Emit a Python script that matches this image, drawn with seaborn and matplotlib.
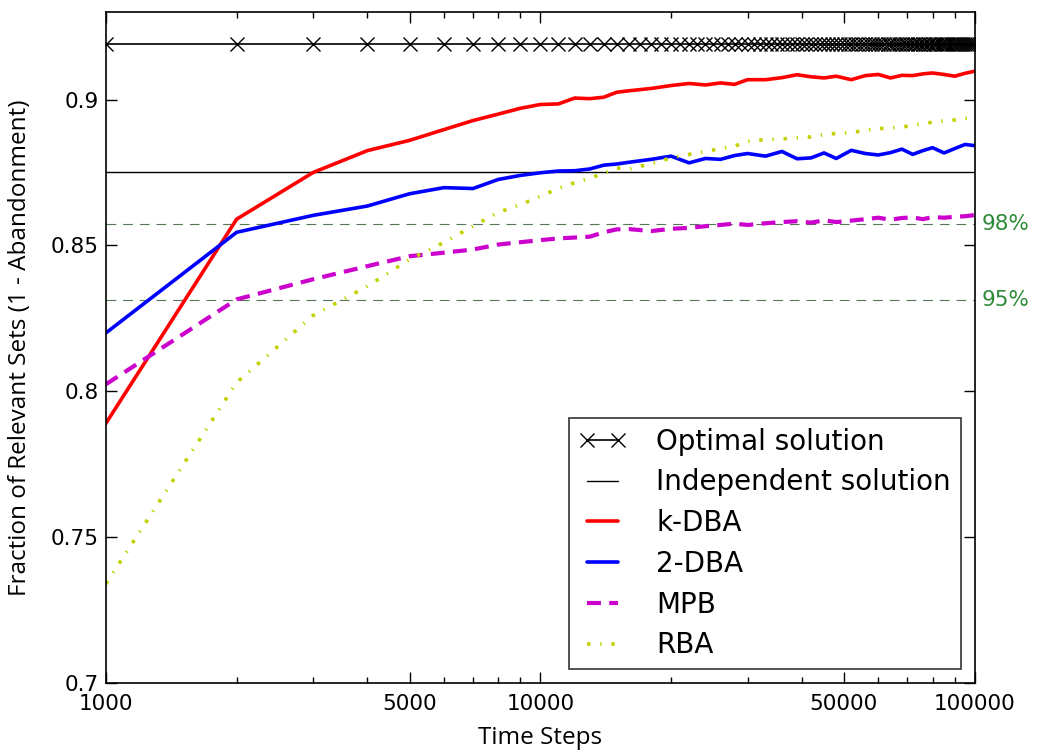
import numpy as np
import matplotlib
matplotlib.use("Agg")
import matplotlib.pyplot as plt
import matplotlib.ticker as mticker
import seaborn as sns

steps = [1000, 2000, 3000, 4000, 5000, 6000, 7000, 8000, 9000, 10000,
         11000, 12000, 13000, 14000, 15000, 16000, 18000, 20000, 22000, 24000,
         26000, 28000, 30000, 33000, 36000, 39000, 42000, 45000, 48000, 52000,
         56000, 60000, 64000, 68000, 72000, 76000, 80000, 85000, 90000, 95000,
         100000]

kdba = [0.789, 0.859, 0.875, 0.8825, 0.886, 0.8897, 0.8928, 0.895, 0.897, 0.8983,
        0.8985, 0.9005, 0.9003, 0.9008, 0.9025, 0.9030, 0.9038, 0.9048, 0.9055, 0.9050,
        0.9057, 0.9052, 0.9068, 0.9068, 0.9075, 0.9085, 0.9078, 0.9074, 0.9080, 0.9068,
        0.9082, 0.9086, 0.9074, 0.9083, 0.9082, 0.9088, 0.9091, 0.9086, 0.9080, 0.9090,
        0.9097]

dba2 = [0.820, 0.8545, 0.8603, 0.8635, 0.8677, 0.8698, 0.8695, 0.8726, 0.874, 0.8749,
        0.8755, 0.8756, 0.8762, 0.8775, 0.8779, 0.8785, 0.8795, 0.8806, 0.8783, 0.8798,
        0.8795, 0.8808, 0.8815, 0.8806, 0.8822, 0.8797, 0.8800, 0.8817, 0.8798, 0.8826,
        0.8815, 0.8810, 0.8818, 0.8830, 0.8812, 0.8825, 0.8835, 0.8817, 0.8832, 0.8846,
        0.8842]

mpb = [0.8024, 0.8315, 0.8384, 0.8429, 0.8463, 0.8475, 0.8486, 0.8503, 0.8511, 0.8518,
       0.8524, 0.8527, 0.8530, 0.8545, 0.8555, 0.8556, 0.8549, 0.8557, 0.8560, 0.8566,
       0.8570, 0.8575, 0.8570, 0.8576, 0.8580, 0.8583, 0.8578, 0.8586, 0.8580, 0.8585,
       0.8590, 0.8595, 0.8588, 0.8594, 0.8596, 0.8590, 0.8597, 0.8595, 0.8598, 0.8600,
       0.8604]

rba = [0.734, 0.803, 0.826, 0.836, 0.8452, 0.851, 0.8566, 0.8613, 0.864, 0.8668,
       0.8695, 0.8715, 0.873, 0.8748, 0.8765, 0.8762, 0.8780, 0.8800, 0.8812, 0.8822,
       0.8832, 0.8840, 0.8857, 0.8863, 0.8865, 0.8869, 0.8872, 0.8880, 0.8884, 0.8886,
       0.8895, 0.8900, 0.8903, 0.8906, 0.8911, 0.8918, 0.8922, 0.8927, 0.8930, 0.8935,
       0.8940]

# optimal solution is marked at every 1000 steps
optimal_steps = list(range(1000, 100001, 1000))
optimal_value = 0.919
independent_value = 0.875
pct_levels = [0.98, 0.95]
pct_labels = ["98%", "95%"]

sns.set_style("ticks")
plt.rcParams["font.family"] = ["DejaVu Sans"]
plt.rcParams["lines.scale_dashes"] = False

fig = plt.figure(figsize=(10.38, 7.51), dpi=100)
ax = fig.add_axes([0.102, 0.0905, 0.837, 0.8935])

sns.lineplot(x=optimal_steps, y=[optimal_value] * len(optimal_steps), ax=ax,
             color="black", lw=1.2, marker="x", markersize=10, markeredgewidth=1.0,
             markeredgecolor="black", label="Optimal solution")
sns.lineplot(x=[steps[0], steps[-1]], y=[independent_value] * 2, ax=ax,
             color="black", lw=1.0, label="Independent solution")
sns.lineplot(x=steps, y=kdba, ax=ax, color="red", lw=2.6, label="k-DBA")
sns.lineplot(x=steps, y=dba2, ax=ax, color="blue", lw=2.6, label="2-DBA")
sns.lineplot(x=steps, y=mpb, ax=ax, color="#cc00cc", lw=3, label="MPB",
             linestyle=(0, (10, 6)))
sns.lineplot(x=steps, y=rba, ax=ax, color="#c2d100", lw=2.6, label="RBA",
             linestyle=(0, (2.5, 7, 1, 7)))

for lvl, txt in zip(pct_levels, pct_labels):
    y = lvl * independent_value
    ax.axhline(y, color="#557755", lw=0.8, linestyle=(0, (7, 5)), zorder=1)
    ax.text(1.008, y, txt, transform=ax.get_yaxis_transform(), color="#2e8b3a",
            fontsize=15.5, va="center", ha="left")

ax.set_xscale("log")
ax.set_xlim(1000, 100000)
ax.set_ylim(0.7, 0.93)
ax.xaxis.set_major_locator(mticker.FixedLocator([1000, 5000, 10000, 50000, 100000]))
ax.xaxis.set_major_formatter(mticker.FixedFormatter(["1000", "5000", "10000", "50000", "100000"]))
ax.xaxis.set_minor_locator(mticker.LogLocator(base=10, subs=np.arange(2, 10)))
ax.xaxis.set_minor_formatter(mticker.NullFormatter())
ax.set_yticks([0.7, 0.75, 0.8, 0.85, 0.9])
ax.set_yticklabels(["0.7", "0.75", "0.8", "0.85", "0.9"])
ax.tick_params(which="both", direction="in", top=True, right=True, labelsize=15.5,
               color="black", labelcolor="black")
ax.tick_params(which="major", length=8, width=1)
ax.tick_params(which="minor", length=4, width=1)
ax.tick_params(axis="x", pad=8)
ax.tick_params(axis="y", pad=5)
for s in ax.spines.values():
    s.set_color("black")
    s.set_linewidth(1.2)

ax.set_xlabel("Time Steps", fontsize=17.5, family="Open Sans", color="black")
ax.set_ylabel("Fraction of Relevant Sets (1 - Abandonment)", fontsize=17.5,
              family="Open Sans", color="black")
ax.xaxis.set_label_coords(0.5, -0.064)
ax.yaxis.set_label_coords(-0.085, 0.5)

leg = ax.legend(loc="lower right", fontsize=20, frameon=True, fancybox=False,
                handlelength=1.7, handletextpad=1.1, borderaxespad=0.5,
                labelspacing=0.46, borderpad=0.35, numpoints=2)
leg.get_frame().set_edgecolor("black")
leg.get_frame().set_linewidth(1.2)
for t in leg.get_texts():
    t.set_color("black")

fig.savefig("out.png", dpi=100)
